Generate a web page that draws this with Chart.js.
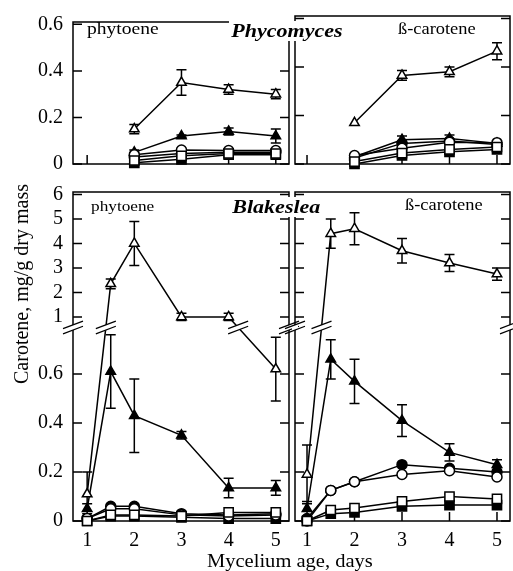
<!DOCTYPE html>
<html>
<head>
<meta charset="utf-8">
<script src="https://cdn.jsdelivr.net/npm/chart.js@4.4.0/dist/chart.umd.min.js"></script>
<style>
  body { margin: 0; background: #fff; }
  #wrap { position: relative; width: 513px; height: 571px; overflow: hidden; font-family: 'Liberation Serif', 'Times New Roman', serif; color: #000; }
  #wrap canvas { position: absolute; left: 0; top: 0; }
  .lbl { position: absolute; white-space: nowrap; line-height: 1; transform-origin: 0 0; }
  .genus { font-weight: bold; font-style: italic; background: #fff; padding: 0 2px; }
  .ytitle { left: 21px; top: 284px; font-size: 20px; transform-origin: 50% 50%; transform: translate(-50%, -50%) rotate(-90deg); }
</style>
</head>
<body>
<div id="wrap">
  <canvas id="phyPhyto" width="513" height="571"></canvas>
  <canvas id="phyCarot" width="513" height="571"></canvas>
  <canvas id="blkPhyto" width="513" height="571"></canvas>
  <canvas id="blkCarot" width="513" height="571"></canvas>

  <div class="lbl" style="left:87px; top:20px; font-size:17px; transform:scaleX(1.15)">phytoene</div>
  <div class="lbl" style="left:398px; top:21px; font-size:16px; transform:scaleX(1.15)">ß-carotene</div>
  <div class="lbl genus" style="left:229px; top:21px; font-size:19.5px; transform:scaleX(1.13)">Phycomyces</div>
  <div class="lbl" style="left:91px; top:199px; font-size:15px; transform:scaleX(1.15)">phytoene</div>
  <div class="lbl genus" style="left:230px; top:197px; font-size:19.5px; transform:scaleX(1.13)">Blakeslea</div>
  <div class="lbl" style="left:405px; top:197px; font-size:16px; transform:scaleX(1.15)">ß-carotene</div>
  <div class="lbl" style="left:207px; top:551px; font-size:19px; transform:scaleX(1.08)">Mycelium age, days</div>
  <div class="lbl ytitle">Carotene, mg/g dry mass</div>
</div>

<script>
// Mycelium age (days) for each panel row
const phyDays = [2, 3, 4, 5];
const blkDays = [1, 1.5, 2, 3, 4, 5];
const dayTicks = [1, 2, 3, 4, 5];

// y tick values
const phyYTicks = [0, 0.2, 0.4, 0.6];
const blkYTicks = [0, 0.2, 0.4, 0.6, 1, 2, 3, 4, 5, 6];

// Phycomyces, phytoene
const phyPhyOpenTri = [0.15, 0.35, 0.32, 0.30];
const phyPhyOpenTriErr = [0.02, 0.055, 0.02, 0.02];
const phyPhyFillTri = [0.05, 0.12, 0.14, 0.12];
const phyPhyFillTriErr = [0.01, 0.005, 0.015, 0.03];
const phyPhyOpenCirc = [0.04, 0.06, 0.058, 0.058];
const phyPhyFillCirc = [0.03, 0.045, 0.05, 0.05];
const phyPhyOpenSq = [0.015, 0.035, 0.045, 0.045];
const phyPhyFillSq = [0.005, 0.02, 0.04, 0.04];

// Phycomyces, beta-carotene
const phyCarOpenTri = [0.17, 0.365, 0.38, 0.465];
const phyCarOpenTriErr = [0, 0.02, 0.02, 0.035];
const phyCarFillTri = [0.03, 0.1, 0.105, 0.085];
const phyCarFillTriErr = [0, 0.015, 0.015, 0.01];
const phyCarOpenCirc = [0.035, 0.065, 0.09, 0.088];
const phyCarFillCirc = [0.025, 0.085, 0.095, 0.08];
const phyCarOpenSq = [0.01, 0.045, 0.06, 0.07];
const phyCarFillSq = [0.0, 0.035, 0.05, 0.06];

// Blakeslea, phytoene
const blkPhyOpenTri = [0.11, 2.35, 4.0, 1.0, 1.0, 0.62];
const blkPhyOpenTriErr = [0.09, 0.2, 0.9, 0.15, 0.15, 0.13];
const blkPhyFillTri = [0.05, 0.61, 0.43, 0.35, 0.135, 0.135];
const blkPhyFillTriErr = [0.02, 0.15, 0.15, 0.015, 0.04, 0.03];
const blkPhyOpenCirc = [0.01, 0.05, 0.05, 0.025, 0.02, 0.025];
const blkPhyFillCirc = [0.01, 0.06, 0.06, 0.03, 0.025, 0.03];
const blkPhyOpenSq = [0.0, 0.025, 0.025, 0.02, 0.035, 0.035];
const blkPhyFillSq = [0.0, 0.02, 0.02, 0.015, 0.01, 0.01];

// Blakeslea, beta-carotene
const blkCarOpenTri = [0.19, 4.4, 4.6, 3.7, 3.2, 2.75];
const blkCarOpenTriErr = [0.12, 0.6, 0.65, 0.5, 0.35, 0.25];
const blkCarFillTri = [0.05, 0.66, 0.57, 0.41, 0.28, 0.23];
const blkCarFillTriErr = [0.03, 0.08, 0.09, 0.065, 0.035, 0.02];
const blkCarOpenCirc = [0.0, 0.125, 0.16, 0.19, 0.205, 0.18];
const blkCarFillCirc = [0.01, 0.125, 0.16, 0.23, 0.215, 0.2];
const blkCarOpenSq = [0.0, 0.045, 0.053, 0.08, 0.1, 0.09];
const blkCarOpenSqErr = [0, 0, 0, 0.015, 0.01, 0];
const blkCarFillSq = [0.0, 0.03, 0.035, 0.06, 0.065, 0.065];

// Broken axis: below 0.8 the scale is 1:1, above it 1 unit takes 0.1
const BREAK_AT = 0.79;
function brk(v) { return v <= 0.8 ? v : 0.733 + 0.1 * v; }
function plain(v) { return v; }

Chart.defaults.font.family = "'Liberation Serif', 'Times New Roman', serif";
Chart.defaults.color = '#000';
Chart.defaults.animation = false;
const tickFont = { size: 20 };

// first row ends up on top (Chart.js draws dataset 0 last)
function rowsFor(openTri, openTriErr, fillTri, fillTriErr, openCirc, fillCirc, openSq, openSqErr, fillSq) {
    return [
        { values: openTri, err: openTriErr, style: 'triangle', filled: false },
        { values: openSq, err: openSqErr, style: 'rect', filled: false },
        { values: openCirc, style: 'circle', filled: false },
        { values: fillTri, err: fillTriErr, style: 'triangle', filled: true },
        { values: fillCirc, style: 'circle', filled: true },
        { values: fillSq, style: 'rect', filled: true }
    ];
}

function buildDatasets(days, rows, tf) {
    return rows.map(r => ({
        data: r.values.map((v, i) => ({ x: days[i], y: tf(v) })),
        errors: r.err ? r.err.map((e, i) => e ? [tf(r.values[i] - e), tf(r.values[i] + e)] : null) : [],
        borderColor: '#000',
        borderWidth: 1.5,
        pointStyle: r.style,
        pointRadius: r.style === 'rect' ? 6.5 : (r.style === 'triangle' ? 5.5 : 5),
        pointBackgroundColor: r.filled ? '#000' : '#fff',
        pointBorderColor: '#000',
        pointBorderWidth: 1.5,
        clip: false
    }));
}

// two slanted strokes with a white gap between them
function drawBreak(ctx, x, y, fw) {
    const w = 10, s = 0.38, g = 2.6;
    ctx.fillStyle = '#fff';
    ctx.beginPath();
    ctx.moveTo(x - fw, y + s * fw + g);
    ctx.lineTo(x + fw, y - s * fw + g);
    ctx.lineTo(x + fw, y - s * fw - g);
    ctx.lineTo(x - fw, y + s * fw - g);
    ctx.closePath();
    ctx.fill();
    ctx.beginPath();
    ctx.moveTo(x - w, y + s * w + g); ctx.lineTo(x + w, y - s * w + g);
    ctx.moveTo(x - w, y + s * w - g); ctx.lineTo(x + w, y - s * w - g);
    ctx.stroke();
}

// frame, inward ticks, error bars and axis breaks
function framePlugin(yTicks, tf, broken) {
    return {
        id: 'frame',
        beforeDatasetsDraw(chart) {
            const { ctx, chartArea: a, scales: { x, y } } = chart;
            ctx.save();
            ctx.strokeStyle = '#000';
            ctx.lineWidth = 1.5;
            ctx.strokeRect(a.left, a.top, a.right - a.left, a.bottom - a.top);
            ctx.beginPath();
            yTicks.forEach(v => {
                const py = y.getPixelForValue(tf(v));
                ctx.moveTo(a.left, py); ctx.lineTo(a.left + 9, py);
                ctx.moveTo(a.right, py); ctx.lineTo(a.right - 9, py);
            });
            dayTicks.forEach(d => {
                const px = x.getPixelForValue(d);
                ctx.moveTo(px, a.bottom); ctx.lineTo(px, a.bottom - 9);
            });
            chart.data.datasets.forEach(ds => {
                ds.errors.forEach((e, i) => {
                    if (!e) return;
                    const px = x.getPixelForValue(ds.data[i].x);
                    const lo = y.getPixelForValue(e[0]), hi = y.getPixelForValue(e[1]);
                    ctx.moveTo(px, lo); ctx.lineTo(px, hi);
                    ctx.moveTo(px - 5, lo); ctx.lineTo(px + 5, lo);
                    ctx.moveTo(px - 5, hi); ctx.lineTo(px + 5, hi);
                });
            });
            ctx.stroke();
            ctx.restore();
        },
        afterDatasetsDraw(chart) {
            if (!broken) return;
            const { ctx, chartArea: a, scales: { y } } = chart;
            const by = y.getPixelForValue(BREAK_AT);
            ctx.save();
            ctx.strokeStyle = '#000';
            ctx.lineWidth = 1.2;
            drawBreak(ctx, a.left, by, 3);
            drawBreak(ctx, a.right, by, 3);
            chart.data.datasets.forEach((ds, di) => {
                const pts = chart.getDatasetMeta(di).data;
                for (let i = 1; i < ds.data.length; i++) {
                    const t0 = ds.data[i - 1].y, t1 = ds.data[i].y;
                    if ((t0 - BREAK_AT) * (t1 - BREAK_AT) >= 0) continue;
                    const f = (BREAK_AT - t0) / (t1 - t0);
                    const px = pts[i - 1].x + f * (pts[i].x - pts[i - 1].x);
                    drawBreak(ctx, px, by, 5);
                }
            });
            ctx.restore();
        }
    };
}

function makeChart(id, p) {
    const yLabels = p.yTicks.map(String);
    return new Chart(document.getElementById(id), {
        type: 'line',
        data: { datasets: buildDatasets(p.days, p.rows, p.tf) },
        options: {
            responsive: false,
            devicePixelRatio: 1,
            events: [],
            layout: { padding: p.pad, autoPadding: false },
            plugins: { legend: { display: false }, tooltip: { enabled: false } },
            scales: {
                x: {
                    type: 'linear', min: p.xMin, max: p.xMax, display: p.showX,
                    afterBuildTicks: s => { s.ticks = dayTicks.map(v => ({ value: v })); },
                    afterFit: s => { s.height = p.showX ? 50 : 0; },
                    grid: { display: false, drawTicks: false },
                    border: { display: false },
                    ticks: { padding: 8, font: tickFont, color: '#000', maxRotation: 0 }
                },
                y: {
                    type: 'linear', min: 0, max: p.yMax, display: p.showY,
                    afterBuildTicks: s => { s.ticks = p.yTicks.map(v => ({ value: p.tf(v) })); },
                    afterFit: s => { s.width = p.showY ? 73 : 0; },
                    grid: { display: false, drawTicks: false },
                    border: { display: false },
                    ticks: { padding: 10, font: tickFont, color: '#000', callback: (v, i) => yLabels[i] }
                }
            }
        },
        plugins: [framePlugin(p.yTicks, p.tf, p.broken)]
    });
}

makeChart('phyPhyto', {
    days: phyDays, tf: plain, yMax: 0.61, yTicks: phyYTicks, xMin: 0.70, xMax: 5.28,
    rows: rowsFor(phyPhyOpenTri, phyPhyOpenTriErr, phyPhyFillTri, phyPhyFillTriErr,
                  phyPhyOpenCirc, phyPhyFillCirc, phyPhyOpenSq, null, phyPhyFillSq),
    pad: { left: 0, top: 16, right: 224, bottom: 407 }, showX: false, showY: true, broken: false
});

makeChart('phyCarot', {
    days: phyDays, tf: plain, yMax: 0.61, yTicks: phyYTicks, xMin: 0.747, xMax: 5.274,
    rows: rowsFor(phyCarOpenTri, phyCarOpenTriErr, phyCarFillTri, phyCarFillTriErr,
                  phyCarOpenCirc, phyCarFillCirc, phyCarOpenSq, null, phyCarFillSq),
    pad: { left: 295, top: 16, right: 3, bottom: 407 }, showX: false, showY: false, broken: false
});

makeChart('blkPhyto', {
    days: blkDays, tf: brk, yMax: 1.343, yTicks: blkYTicks, xMin: 0.70, xMax: 5.28,
    rows: rowsFor(blkPhyOpenTri, blkPhyOpenTriErr, blkPhyFillTri, blkPhyFillTriErr,
                  blkPhyOpenCirc, blkPhyFillCirc, blkPhyOpenSq, null, blkPhyFillSq),
    pad: { left: 0, top: 192, right: 224, bottom: 0 }, showX: true, showY: true, broken: true
});

makeChart('blkCarot', {
    days: blkDays, tf: brk, yMax: 1.343, yTicks: blkYTicks, xMin: 0.747, xMax: 5.274,
    rows: rowsFor(blkCarOpenTri, blkCarOpenTriErr, blkCarFillTri, blkCarFillTriErr,
                  blkCarOpenCirc, blkCarFillCirc, blkCarOpenSq, blkCarOpenSqErr, blkCarFillSq),
    pad: { left: 295, top: 192, right: 3, bottom: 0 }, showX: true, showY: false, broken: true
});
</script>
</body>
</html>
